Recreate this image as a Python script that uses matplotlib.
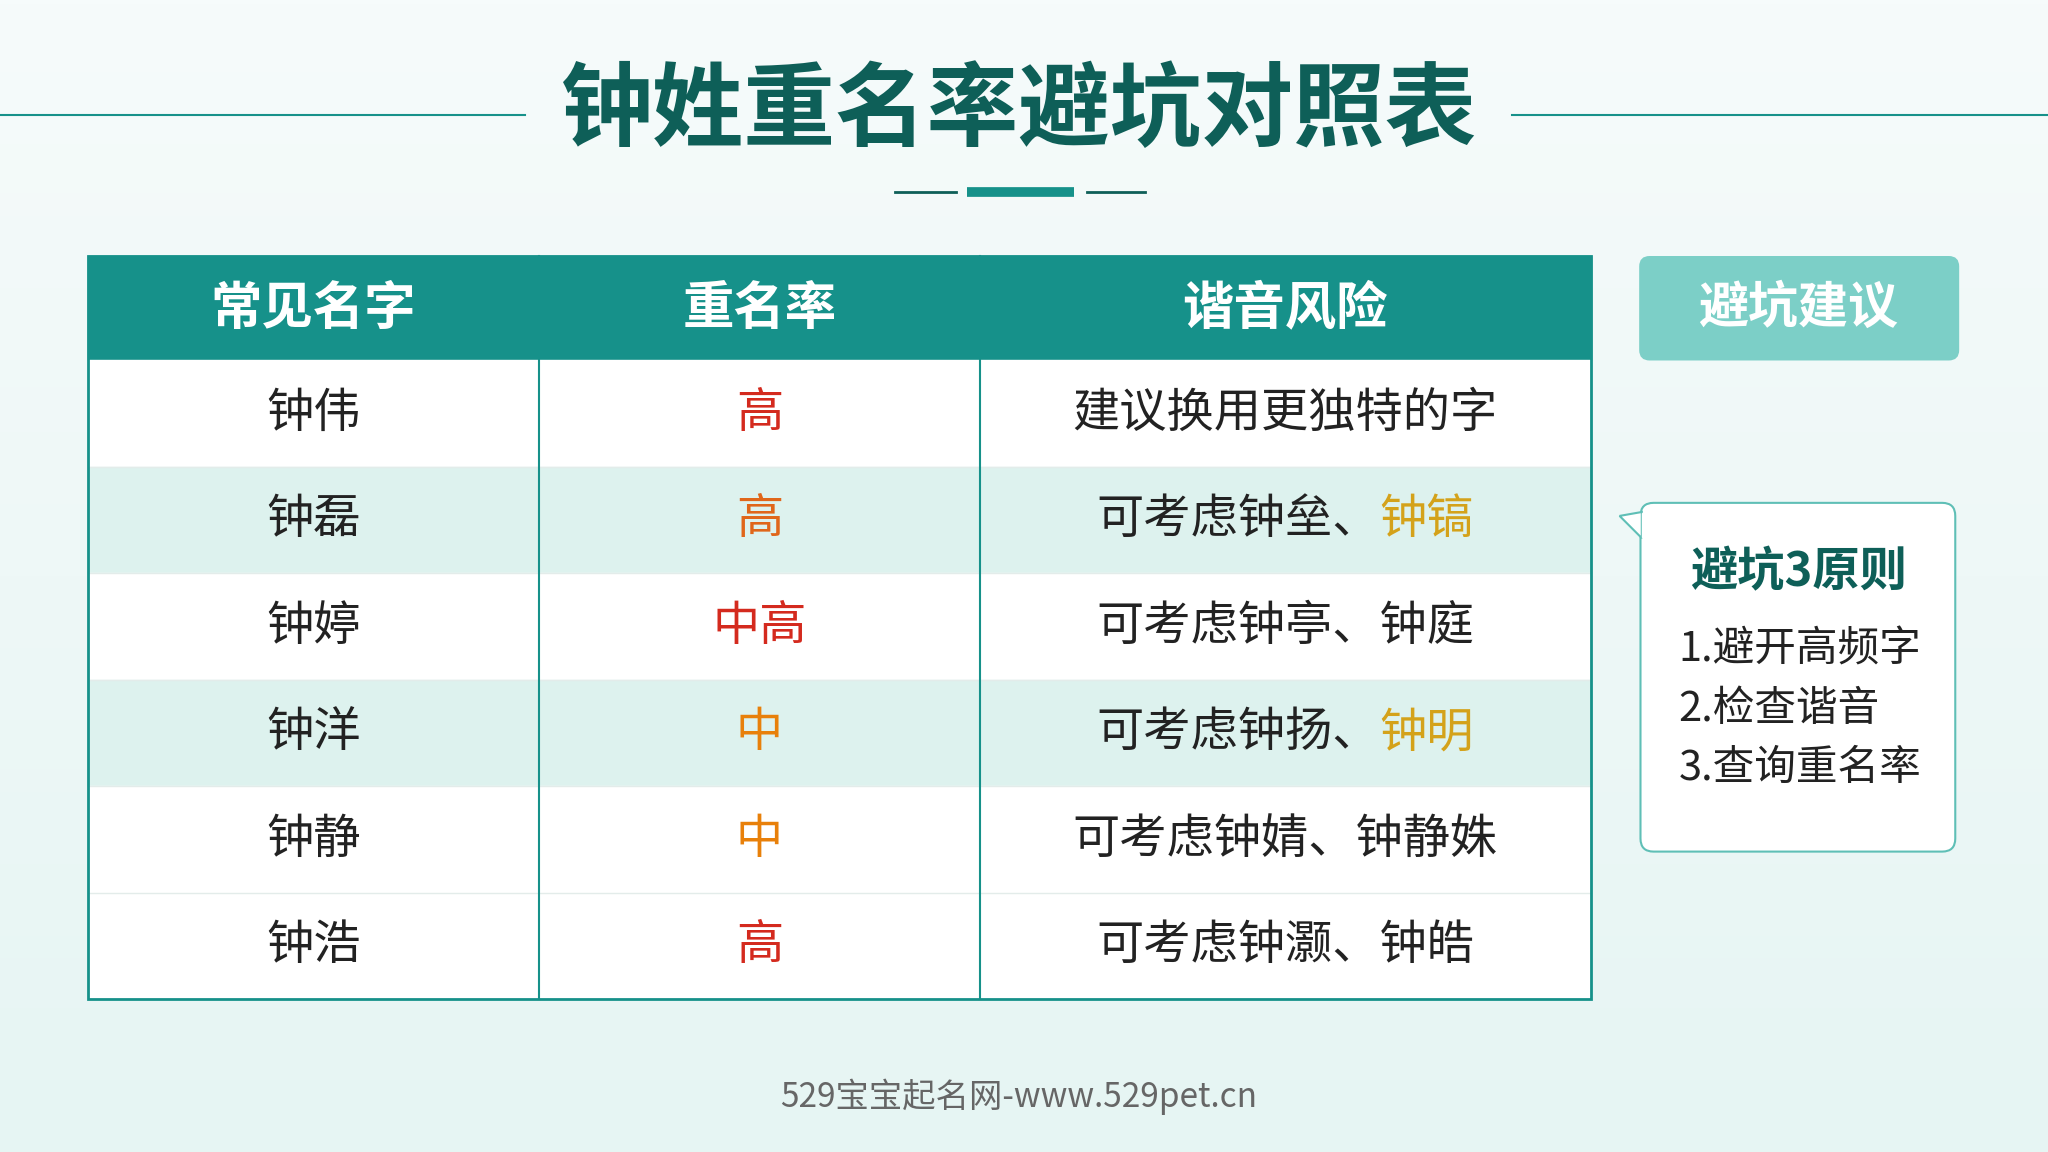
import matplotlib
matplotlib.use("Agg")
import matplotlib.pyplot as plt
from matplotlib.patches import Rectangle, FancyBboxPatch, Polygon
from matplotlib.colors import LinearSegmentedColormap
import numpy as np

plt.rcParams['font.family'] = ['Noto Sans CJK SC', 'DejaVu Sans']

title = "钟姓重名率避坑对照表"
headers = ["常见名字", "重名率", "谐音风险"]
names = ["钟伟", "钟磊", "钟婷", "钟洋", "钟静", "钟浩"]
rates = ["高", "高", "中高", "中", "中", "高"]
rate_colors = ["#d42a1e", "#e0661a", "#d42a1e", "#e8800a", "#e8800a", "#d42a1e"]
row_tint = [False, True, False, True, False, False]
# advice split into (plain part, highlighted part)
advice = [("建议换用更独特的字", ""), ("可考虑钟垒、", "钟镐"), ("可考虑钟亭、钟庭", ""),
          ("可考虑钟扬、", "钟明"), ("可考虑钟婧、钟静姝", ""), ("可考虑钟灏、钟皓", "")]
tips_title = "避坑3原则"
tips = ["1.避开高频字", "2.检查谐音", "3.查询重名率"]
footer = "529宝宝起名网-www.529pet.cn"

W, H = 1568, 882
teal = "#16918a"
dark = "#0e5f58"

fig = plt.figure(figsize=(20.48, 11.52), dpi=100)
ax = fig.add_axes([0, 0, 1, 1])
ax.set_xlim(0, W)
ax.set_ylim(H, 0)
ax.axis("off")

# background gradient
grad = np.linspace(0, 1, 256).reshape(-1, 1)
cm = LinearSegmentedColormap.from_list("bg", ["#f6fbfb", "#e6f5f3"])
ax.imshow(grad, extent=[0, W, H, 0], cmap=cm, aspect="auto", zorder=0)

# title
ax.text(780, 86, title, fontsize=66, fontweight="bold", color=dark, ha="center", va="center")
ax.plot([0, 402], [88, 88], color=teal, lw=1.5)
ax.plot([1158, W], [88, 88], color=teal, lw=1.5)
ax.plot([685, 732], [147, 147], color=dark, lw=2)
ax.plot([740, 822], [147, 147], color=teal, lw=7, solid_capstyle="butt")
ax.plot([832, 877], [147, 147], color=dark, lw=2)

# table
cols = [67, 413, 750, 1218]
top, head_h, row_h = 196, 80, 81.5
fs = 34
ax.add_patch(Rectangle((cols[0], top), cols[-1] - cols[0], head_h, color=teal, zorder=1))
for i, h in enumerate(headers):
    ax.text((cols[i] + cols[i + 1]) / 2, top + head_h / 2, h, fontsize=37, fontweight="bold",
            color="white", ha="center", va="center", zorder=3)
for r in range(len(names)):
    y0 = top + head_h + r * row_h
    fc = "#ddf2ee" if row_tint[r] else "white"
    ax.add_patch(Rectangle((cols[0], y0), cols[-1] - cols[0], row_h, color=fc, zorder=1))
    if r > 0:
        ax.plot([cols[0], cols[-1]], [y0, y0], color="#e3ecea", lw=1, zorder=2)
    yc = y0 + row_h / 2
    ax.text((cols[0] + cols[1]) / 2, yc, names[r], fontsize=fs, color="#222222", ha="center", va="center", zorder=3)
    ax.text((cols[1] + cols[2]) / 2, yc, rates[r], fontsize=fs, color=rate_colors[r], ha="center", va="center", zorder=3)
    plain, hi = advice[r]
    cx = (cols[2] + cols[3]) / 2
    if hi:
        cw = fs * (100 / 72) * W / 2048
        n = len(plain) + len(hi)
        x0 = cx - n * cw / 2
        ax.text(x0, yc, plain, fontsize=fs, color="#222222", ha="left", va="center", zorder=3)
        ax.text(x0 + len(plain) * cw, yc, hi, fontsize=fs, color="#d4a21a", ha="left", va="center", zorder=3)
    else:
        ax.text(cx, yc, plain, fontsize=fs, color="#222222", ha="center", va="center", zorder=3)
bottom = top + head_h + len(names) * row_h
ax.add_patch(Rectangle((cols[0], top), cols[-1] - cols[0], bottom - top, fill=False, ec=teal, lw=2, zorder=4))
for c in cols[1:-1]:
    ax.plot([c, c], [top, bottom], color=teal, lw=1.5, zorder=4)

# side button
ax.add_patch(FancyBboxPatch((1255, 196), 245, 80, boxstyle="round,pad=0,rounding_size=8",
                            fc="#7ccfc7", ec="none", zorder=2))
ax.text(1377, 236, "避坑建议", fontsize=36, fontweight="bold", color="white", ha="center", va="center", zorder=3)

# tips box
ax.add_patch(FancyBboxPatch((1256, 385), 241, 267, boxstyle="round,pad=0,rounding_size=10",
                            fc="white", ec="#5fbfb6", lw=1.5, zorder=2))
ax.add_patch(Polygon([[1257, 392], [1240, 395], [1257, 412]], closed=True, fc="white", ec="#5fbfb6", lw=1.5, zorder=2))
ax.add_patch(Rectangle((1257.5, 393), 3, 18, color="white", zorder=3))
ax.text(1377, 438, tips_title, fontsize=34, fontweight="bold", color=dark, ha="center", va="center", zorder=3)
for i, t in enumerate(tips):
    ax.text(1285, 498 + i * 45, t, fontsize=30, color="#222222", ha="left", va="center", zorder=3)

ax.text(780, 840, footer, fontsize=24, color="#666666", ha="center", va="center")

fig.savefig("out.png", dpi=100)
